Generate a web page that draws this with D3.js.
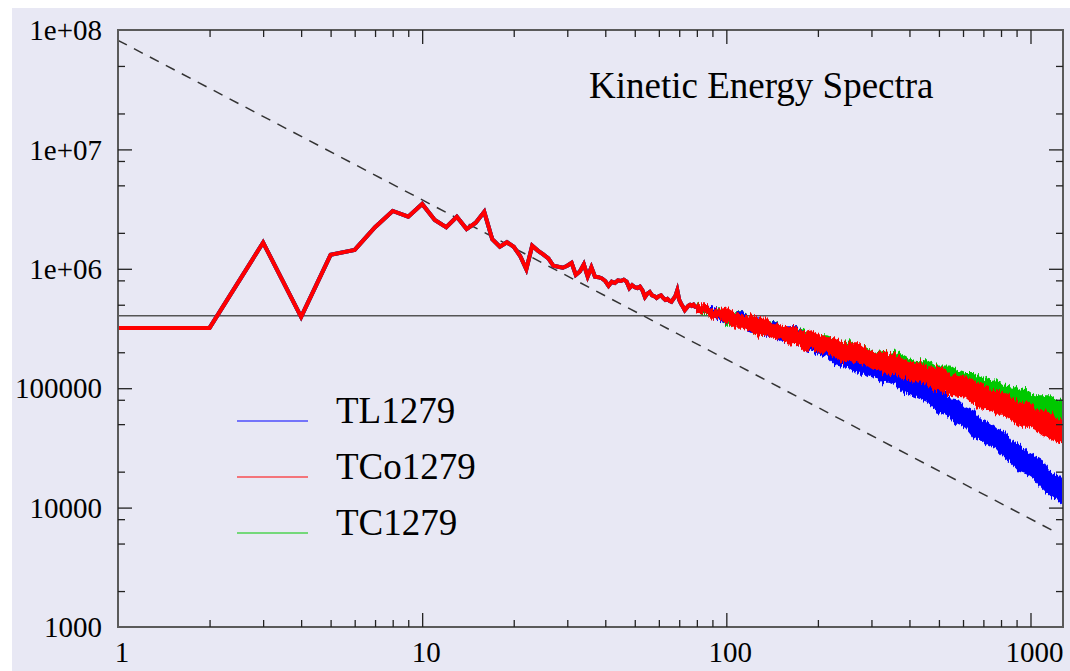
<!DOCTYPE html>
<html><head><meta charset="utf-8">
<script src="https://cdn.jsdelivr.net/npm/d3@7"></script>
<style>html,body{margin:0;padding:0;background:#fff;} svg{display:block}</style>
</head><body><svg id="c" width="1070" height="671"></svg>
<script>
// ---------------- data ----------------
const chartTitle = "Kinetic Energy Spectra";
const seriesNames = ["TL1279", "TCo1279", "TC1279"];
const seriesColors = ["#0000ff", "#ff0000", "#00c800"];

const xTickValues = [1, 10, 100, 1000];
const xTickLabels = ["1", "10", "100", "1000"];
const xMinorTicks = [2,3,4,5,6,7,8,9,20,30,40,50,60,70,80,90,200,300,400,500,600,700,800,900];
const yTickValues = [1e3, 1e4, 1e5, 1e6, 1e7, 1e8];
const yTickLabels = ["1000", "10000", "100000", "1e+06", "1e+07", "1e+08"];
const yMinorTicks = [2e3,5e3,8e3,2e4,5e4,8e4,2e5,5e5,8e5,2e6,5e6,8e6,2e7,5e7];

// reference lines
const refLevel = 4.05e5;                 // horizontal solid line
const dashK = [1, 1200];                 // dashed power-law guide
const dashE = [8.2e7, 6.3e3];

// low wavenumbers: the three spectra coincide
const kLow = [1,2,3,4,5,6,7,8,9,10,11,12,13,14,15,16,17,18,19,20,21,22,23,24,25,26,27,28,29,30,
  31,32,33,34,35,36,37,38,39,40,41,42,43,44,45,46,47,48,49,50,51,52,53,54,55,56,57,58,59,60,
  61,62,63,64,65,66,67,68,69,70,71,72,73,74,75,76,77,78,79,80];
const eLow = [3.2e5,3.2e5,1.66e6,3.95e5,1.31e6,1.44e6,2.23e6,3.05e6,2.73e6,3.49e6,
  2.56e6,2.23e6,2.73e6,2.15e6,2.43e6,3.0e6,1.77e6,1.53e6,1.67e6,1.53e6,
  1.28e6,9.9e5,1.56e6,1.42e6,1.32e6,1.22e6,1.06e6,1.04e6,1.02e6,1.06e6,
  1.12e6,8.9e5,9.5e5,1.09e6,8.6e5,1.03e6,8.6e5,8.5e5,8.3e5,7.9e5,
  7.2e5,7.8e5,7.6e5,8.0e5,7.9e5,8.1e5,7.8e5,6.9e5,7.3e5,7.0e5,
  6.9e5,7.1e5,6.6e5,5.8e5,6.2e5,6.4e5,6.0e5,5.9e5,5.7e5,5.9e5,
  6.0e5,5.7e5,5.5e5,5.6e5,5.4e5,5.3e5,5.6e5,5.9e5,6.6e5,5.5e5,
  5.1e5,4.8e5,4.5e5,4.7e5,4.9e5,5.0e5,4.9e5,5.0e5,4.8e5,4.8e5];

// high wavenumbers: noisy spread of each spectrum (upper / lower envelope)
const kBand = [80,85,90,95,101,107,113,120,127,135,143,151,160,170,180,191,202,214,227,241,
  255,271,287,304,322,342,362,384,407,431,457,485,514,544,577,612,648,687,729,772,
  819,868,920,975,1034,1096,1161,1231,1279];

const tl1279Hi = [4.98e5,4.88e5,4.79e5,4.43e5,4.52e5,4.27e5,4.35e5,3.87e5,3.87e5,3.59e5,
  3.59e5,3.26e5,3.26e5,3.26e5,2.90e5,2.69e5,2.69e5,2.44e5,2.30e5,2.30e5,
  1.97e5,1.93e5,1.83e5,1.83e5,1.63e5,1.66e5,1.48e5,1.39e5,1.24e5,1.22e5,
  1.17e5,1.00e5,9.30e4,8.12e4,7.96e4,6.83e4,6.44e4,5.42e4,5.11e4,4.56e4,
  4.30e4,3.54e4,3.34e4,2.93e4,2.66e4,2.45e4,1.98e4,1.84e4,1.67e4];
const tl1279Lo = [4.43e5,4.27e5,3.95e5,3.73e5,3.59e5,3.38e5,3.32e5,2.96e5,2.96e5,2.74e5,
  2.74e5,2.44e5,2.44e5,2.39e5,2.17e5,2.01e5,1.93e5,1.86e5,1.59e5,1.53e5,
  1.48e5,1.34e5,1.34e5,1.24e5,1.11e5,1.13e5,1.06e5,9.30e4,8.77e4,8.27e4,
  7.81e4,6.57e4,6.19e4,5.73e4,5.02e4,4.73e4,3.91e4,3.68e4,3.34e4,3.10e4,
  2.60e4,2.36e4,2.02e4,1.92e4,1.73e4,1.46e4,1.28e4,1.16e4,1.07e4];

const tco1279Hi = [5.07e5,5.07e5,4.52e5,4.52e5,4.70e5,4.27e5,4.03e5,4.10e5,3.80e5,3.87e5,
  3.38e5,3.38e5,3.19e5,3.19e5,2.90e5,3.01e5,2.79e5,2.63e5,2.63e5,2.39e5,
  2.39e5,2.39e5,2.13e5,2.01e5,2.05e5,1.93e5,1.90e5,1.72e5,1.63e5,1.66e5,
  1.51e5,1.48e5,1.48e5,1.29e5,1.27e5,1.24e5,1.13e5,1.11e5,9.66e4,9.48e4,
  9.12e4,8.27e4,7.51e4,7.66e4,6.83e4,6.32e4,6.19e4,5.53e4,5.53e4];
const tco1279Lo = [4.35e5,4.27e5,3.87e5,3.87e5,3.59e5,3.19e5,3.19e5,3.07e5,2.74e5,2.84e5,
  2.63e5,2.58e5,2.35e5,2.39e5,2.13e5,2.13e5,2.01e5,2.01e5,1.83e5,1.66e5,
  1.72e5,1.63e5,1.59e5,1.45e5,1.42e5,1.29e5,1.32e5,1.22e5,1.13e5,1.13e5,
  1.11e5,9.66e4,9.48e4,8.77e4,8.60e4,8.44e4,7.51e4,6.70e4,6.83e4,6.08e4,
  6.08e4,5.42e4,4.83e4,4.83e4,4.56e4,4.06e4,3.83e4,3.47e4,3.54e4];

const tc1279Hi = [5.17e5,4.79e5,4.61e5,4.61e5,4.35e5,4.35e5,4.35e5,3.95e5,3.73e5,3.73e5,
  3.59e5,3.32e5,3.13e5,3.26e5,3.01e5,2.79e5,2.74e5,2.74e5,2.58e5,2.39e5,
  2.49e5,2.21e5,2.17e5,2.01e5,2.09e5,1.93e5,2.01e5,1.86e5,1.72e5,1.69e5,
  1.69e5,1.53e5,1.53e5,1.53e5,1.39e5,1.32e5,1.32e5,1.24e5,1.15e5,1.17e5,
  1.04e5,1.02e5,9.66e4,9.48e4,8.60e4,8.60e4,8.60e4,7.81e4,7.96e4];
const tc1279Lo = [4.52e5,4.10e5,4.03e5,3.95e5,3.38e5,3.38e5,3.32e5,3.01e5,2.79e5,2.79e5,
  2.74e5,2.49e5,2.44e5,2.39e5,2.26e5,2.01e5,2.09e5,1.93e5,1.90e5,1.72e5,
  1.76e5,1.63e5,1.56e5,1.42e5,1.48e5,1.37e5,1.34e5,1.24e5,1.27e5,1.17e5,
  1.09e5,1.11e5,1.09e5,9.85e4,9.30e4,9.30e4,8.94e4,7.81e4,7.81e4,7.66e4,
  7.09e4,6.57e4,6.32e4,6.19e4,5.53e4,5.63e4,5.22e4,5.22e4,4.83e4];

// ---------------- drawing ----------------
const svg = d3.select("#c");
const W = 1070, H = 671;
const L = 118, R = 1063, T = 30, B = 627;
const FONT = "'Liberation Serif','Times New Roman',serif";

const defs = svg.append("defs");
// texture filter: gives the envelopes a spiky, noisy edge (style only)
const f = defs.append("filter").attr("id", "jag")
  .attr("x", "-2%").attr("y", "-30%").attr("width", "104%").attr("height", "160%");
f.append("feTurbulence").attr("type", "fractalNoise").attr("baseFrequency", "0.55 0.03")
  .attr("numOctaves", 2).attr("seed", 4).attr("result", "n");
f.append("feColorMatrix").attr("in", "n").attr("type", "matrix")
  .attr("values", "0 0 0 0 0.5  0 1 0 0 0  0 0 0 0 0  0 0 0 0 1").attr("result", "m");
f.append("feDisplacementMap").attr("in", "SourceGraphic").attr("in2", "m")
  .attr("scale", 11).attr("xChannelSelector", "R").attr("yChannelSelector", "G");

svg.append("rect").attr("x", 12).attr("y", 8).attr("width", W - 12).attr("height", H - 8)
  .attr("fill", "#e8e8f4");

const x = d3.scaleLog().domain([1, 1279]).range([L, R]);
const y = d3.scaleLog().domain([1e3, 1e8]).range([B, T]);

defs.append("clipPath").attr("id", "clip")
  .append("rect").attr("x", L).attr("y", T).attr("width", R - L).attr("height", B - T);
const plot = svg.append("g").attr("clip-path", "url(#clip)");

// horizontal reference
plot.append("line").attr("x1", L).attr("x2", R).attr("y1", y(refLevel)).attr("y2", y(refLevel))
  .attr("stroke", "#555").attr("stroke-width", 1.5);

// dashed guide
plot.append("path")
  .datum(dashK.map((k, i) => [k, dashE[i]]))
  .attr("d", d3.line().x(d => x(d[0])).y(d => y(d[1])))
  .attr("fill", "none").attr("stroke", "#333").attr("stroke-width", 1.5)
  .attr("stroke-dasharray", "10,8");

const area = d3.area().x((d) => x(d.k)).y0(d => y(d.lo)).y1(d => y(d.hi));
const bandSeries = [
  { hi: tl1279Hi, lo: tl1279Lo, color: seriesColors[0] },
  { hi: tc1279Hi, lo: tc1279Lo, color: seriesColors[2] },
  { hi: tco1279Hi, lo: tco1279Lo, color: seriesColors[1] }
];
const lowLine = d3.line().x((d, i) => x(kLow[i])).y(d => y(d));

// green, blue underneath; red on top
[bandSeries[1], bandSeries[0], bandSeries[2]].forEach(s => {
  plot.append("g").attr("filter", "url(#jag)").append("path")
    .datum(kBand.map((k, i) => ({ k, hi: s.hi[i], lo: s.lo[i] })))
    .attr("d", area)
    .attr("fill", s.color).attr("stroke", s.color).attr("stroke-width", 1.5)
    .attr("stroke-linejoin", "round");
  plot.append("path").datum(eLow).attr("d", lowLine)
    .attr("fill", "none").attr("stroke", s.color).attr("stroke-width", 4)
    .attr("stroke-linejoin", "miter");
});

// frame
svg.append("rect").attr("x", L).attr("y", T).attr("width", R - L).attr("height", B - T)
  .attr("fill", "none").attr("stroke", "#5a5a5a").attr("stroke-width", 2);

// ticks (inward on all four sides)
const tickColor = "#222";
function ticks(axisGen, vals, size, tx, ty) {
  const g = svg.append("g").attr("transform", `translate(${tx},${ty})`)
    .call(axisGen.tickValues(vals).tickSize(size).tickFormat(""));
  g.select(".domain").remove();
  g.selectAll("line").attr("stroke", tickColor).attr("stroke-width", 1.3);
}
const xMajorIn = xTickValues.filter(v => v > 1);
ticks(d3.axisBottom(x), xMajorIn, -14, 0, B);
ticks(d3.axisBottom(x), xMinorTicks, -7, 0, B);
ticks(d3.axisTop(x), xMajorIn, -14, 0, T);
ticks(d3.axisTop(x), xMinorTicks, -7, 0, T);
const yMajorIn = yTickValues.filter(v => v > 1e3 && v < 1e8);
ticks(d3.axisLeft(y), yMajorIn, -14, L, 0);
ticks(d3.axisLeft(y), yMinorTicks, -7, L, 0);
ticks(d3.axisRight(y), yMajorIn, -14, R, 0);
ticks(d3.axisRight(y), yMinorTicks, -7, R, 0);

// tick labels
svg.append("g").selectAll("text").data(yTickValues).join("text")
  .attr("x", 102).attr("y", d => y(d)).attr("dy", "0.35em")
  .attr("text-anchor", "end").attr("font-family", FONT).attr("font-size", 29)
  .attr("fill", "#000").text((d, i) => yTickLabels[i]);
svg.append("g").selectAll("text").data(xTickValues).join("text")
  .attr("x", d => x(d) + 4).attr("y", 662)
  .attr("text-anchor", "middle").attr("font-family", FONT).attr("font-size", 29)
  .attr("fill", "#000").text((d, i) => xTickLabels[i]);

// title
svg.append("text").attr("x", 589).attr("y", 98).attr("font-family", FONT)
  .attr("font-size", 37).attr("fill", "#000").text(chartTitle);

// legend
const legY = [421, 477, 533];
seriesNames.forEach((n, i) => {
  svg.append("line").attr("x1", 237).attr("x2", 308).attr("y1", legY[i]).attr("y2", legY[i])
    .attr("stroke", seriesColors[i]).attr("stroke-width", 1.1);
  svg.append("text").attr("x", 336).attr("y", legY[i] + 1.5).attr("font-family", FONT)
    .attr("font-size", 37).attr("fill", "#000").text(n);
});
</script></body></html>
